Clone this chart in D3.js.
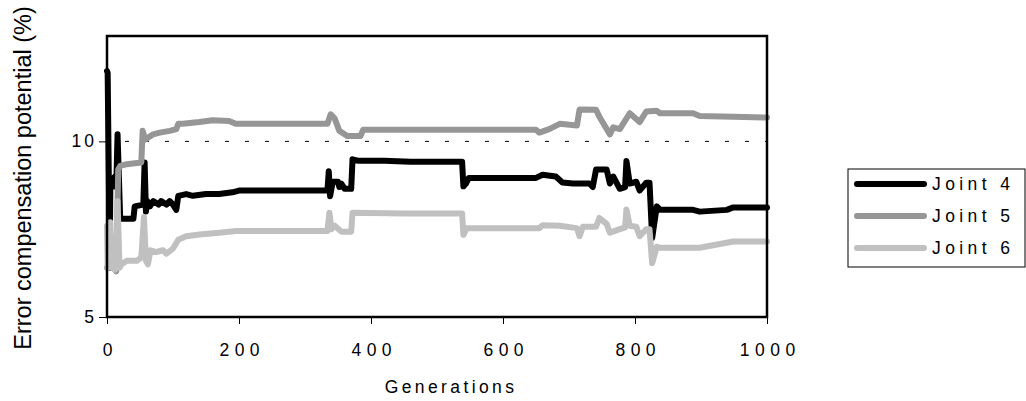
<!DOCTYPE html>
<html><head><meta charset="utf-8">
<script src="https://cdn.jsdelivr.net/npm/d3@7"></script>
<style>
html,body{margin:0;padding:0;background:#fff;}
svg{display:block;}
text{font-family:"Liberation Sans",Arial,sans-serif;fill:#000;}
</style></head>
<body>
<svg id="chart" width="1026" height="401"></svg>
<script>
// ---- data (generation, error compensation potential %) ----
const seriesNames = ["Joint 4", "Joint 5", "Joint 6"];
const seriesColors = ["#000000", "#969696", "#c0c0c0"];
const xTicks = [0, 200, 400, 600, 800, 1000];
const yTicks = [5, 10];
const gridValue = 10;

const joint4 = [[0,12.0],[1,11.95],[3,8.5],[4,6.4],[5,8.6],[8,8.9],[12,9.0],[14,8.7],[16,10.2],[18,9.0],[20,7.8],[24,7.8],[40,7.8],[42,8.15],[55,8.2],[57,9.4],[59,8.0],[61,8.3],[65,8.15],[70,8.3],[78,8.2],[82,8.3],[90,8.2],[95,8.3],[100,8.2],[105,8.05],[108,8.45],[120,8.5],[130,8.45],[150,8.5],[170,8.5],[190,8.55],[200,8.6],[334,8.6],[336,9.15],[338,8.44],[342,8.85],[350,8.85],[352,8.7],[355,8.8],[360,8.65],[370,8.65],[372,9.49],[380,9.45],[420,9.45],[460,9.42],[538,9.42],[540,8.72],[544,8.8],[548,8.96],[650,8.96],[660,9.05],[680,9.0],[690,8.83],[706,8.8],[731,8.8],[736,8.7],[741,9.2],[757,9.2],[762,8.8],[767,9.0],[777,8.65],[785,8.7],[787,9.44],[792,8.8],[802,8.85],[807,8.6],[817,8.82],[822,8.82],[826,7.25],[833,8.15],[838,8.05],[888,8.05],[898,8.0],[939,8.05],[949,8.12],[1000,8.12]];

const joint5 = [[0,6.4],[10,6.4],[14,6.3],[17,9.2],[20,9.3],[30,9.35],[52,9.4],[54,10.3],[58,10.05],[62,10.1],[70,10.2],[80,10.25],[95,10.3],[105,10.35],[108,10.5],[115,10.5],[140,10.55],[160,10.6],[185,10.58],[195,10.5],[334,10.5],[339,10.77],[345,10.65],[352,10.3],[364,10.15],[384,10.15],[388,10.33],[450,10.33],[520,10.33],[650,10.33],[655,10.25],[670,10.35],[686,10.5],[712,10.45],[716,10.91],[741,10.9],[746,10.7],[762,10.2],[767,10.4],[777,10.35],[792,10.8],[807,10.55],[817,10.85],[833,10.87],[838,10.8],[888,10.8],[898,10.72],[949,10.7],[1000,10.68]];

const joint6 = [[0,7.6],[1,6.4],[3,6.5],[5,7.7],[8,6.4],[12,6.35],[14,6.4],[16,8.3],[19,6.4],[22,6.5],[30,6.6],[45,6.6],[52,6.7],[56,7.85],[59,6.6],[62,6.5],[66,6.9],[75,6.85],[85,6.9],[90,6.8],[100,6.95],[108,7.2],[120,7.3],[140,7.35],[170,7.4],[195,7.45],[334,7.45],[337,7.97],[340,7.5],[345,7.6],[355,7.43],[370,7.43],[372,7.97],[450,7.95],[538,7.95],[540,7.34],[545,7.53],[655,7.53],[660,7.61],[686,7.6],[712,7.53],[716,7.3],[721,7.57],[741,7.57],[746,7.82],[757,7.65],[762,7.4],[777,7.5],[785,7.55],[787,8.06],[792,7.6],[802,7.57],[807,7.3],[817,7.5],[822,7.5],[826,6.53],[833,7.0],[838,6.97],[898,6.97],[949,7.15],[1000,7.15]];

const seriesData = [joint4, joint5, joint6];

// ---- layout ----
const svg = d3.select("#chart");
const plot = {left:107, right:767, top:36, bottom:317};

const x = d3.scaleLinear().domain([0,1000]).range([plot.left, plot.right]);
const y = d3.scaleLinear().domain([5,13]).range([plot.bottom, plot.top]);

// dashed gridline at 10
svg.append("line")
  .attr("x1", plot.left).attr("x2", plot.right)
  .attr("y1", y(gridValue)).attr("y2", y(gridValue))
  .attr("stroke", "#000").attr("stroke-width", 1)
  .attr("stroke-dasharray", "4,16").attr("stroke-dashoffset", 2);

// series (later series drawn on top, as in the original)
const line = d3.line().x(d => x(d[0])).y(d => y(d[1]));
seriesData.forEach((s, i) => {
  svg.append("path").datum(s)
    .attr("d", line)
    .attr("fill", "none")
    .attr("stroke", seriesColors[i])
    .attr("stroke-width", 6)
    .attr("stroke-linejoin", "round")
    .attr("stroke-linecap", "round");
});

// plot border
svg.append("rect")
  .attr("x", plot.left).attr("y", plot.top)
  .attr("width", plot.right - plot.left).attr("height", plot.bottom - plot.top)
  .attr("fill", "none").attr("stroke", "#000").attr("stroke-width", 2.5);

// axes
const xAxis = d3.axisBottom(x).tickValues(xTicks).tickSize(7).tickPadding(20).tickFormat(d3.format("d"));
const gx = svg.append("g").attr("transform", `translate(0,${plot.bottom})`).call(xAxis);
gx.select(".domain").remove();
gx.selectAll(".tick line").attr("stroke", "#000").attr("stroke-width", 1);
gx.selectAll(".tick text").attr("font-size", 17.5).attr("letter-spacing", "5.5px")
  .attr("font-family", "Liberation Sans, Arial, sans-serif").attr("fill", "#000")
  .attr("dx", "2.75px");

const yAxis = d3.axisLeft(y).tickValues(yTicks).tickSize(8).tickPadding(2).tickFormat(d3.format("d"));
const gy = svg.append("g").attr("transform", `translate(${plot.left},0)`).call(yAxis);
gy.select(".domain").remove();
gy.selectAll(".tick line").attr("stroke", "#000").attr("stroke-width", 1);
gy.selectAll(".tick text").attr("font-size", 17.5).attr("letter-spacing", "3px")
  .attr("font-family", "Liberation Sans, Arial, sans-serif").attr("fill", "#000");

// axis titles
svg.append("text")
  .attr("x", (plot.left + plot.right) / 2 + 14).attr("y", 393)
  .attr("text-anchor", "middle").attr("font-size", 17.5).attr("letter-spacing", "3.4px")
  .text("Generations");

svg.append("text")
  .attr("transform", `translate(31,178) rotate(-90)`)
  .attr("text-anchor", "middle").attr("font-size", 23.5)
  .text("Error compensation potential (%)");

// legend
const lg = svg.append("g");
lg.append("rect").attr("x", 848).attr("y", 169).attr("width", 177).attr("height", 98)
  .attr("fill", "#fff").attr("stroke", "#000").attr("stroke-width", 1);
const rowY = d3.scalePoint().domain(seriesNames).range([184, 248]);
seriesNames.forEach((n, i) => {
  lg.append("line").attr("x1", 857).attr("x2", 924)
    .attr("y1", rowY(n)).attr("y2", rowY(n))
    .attr("stroke", seriesColors[i]).attr("stroke-width", 6).attr("stroke-linecap", "round");
  lg.append("text").attr("x", 932).attr("y", rowY(n)).attr("dy", "0.35em")
    .attr("font-size", 17.5).attr("letter-spacing", "4.4px").text(n);
});
</script>
</body></html>
